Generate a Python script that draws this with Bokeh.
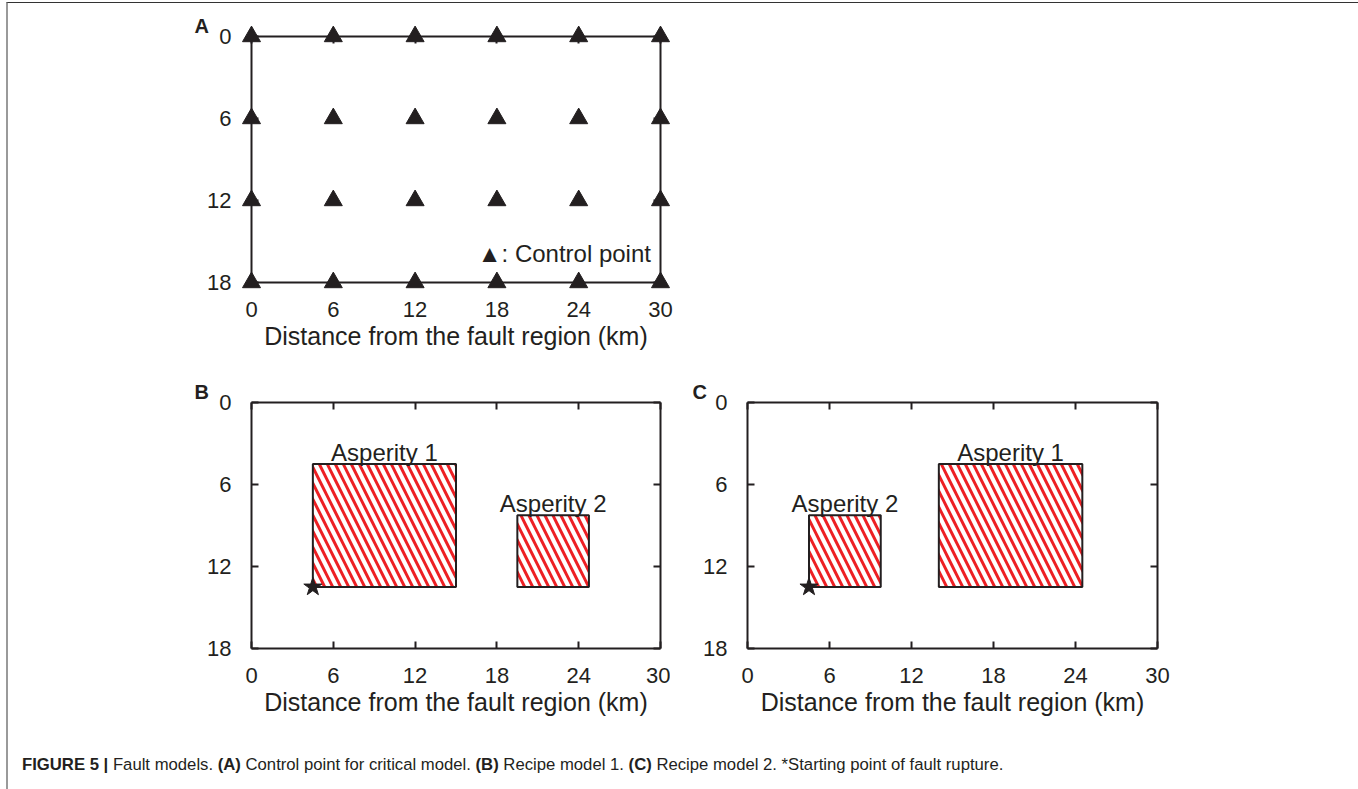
from bokeh.plotting import figure
from bokeh.models import Range1d, FixedTicker, LinearAxis, Label, Div
from bokeh.layouts import column, row
from bokeh.embed import file_html
from bokeh.resources import INLINE
from bokeh.core.properties import value

# ---------------- data ----------------
x_ticks = [0, 6, 12, 18, 24, 30]
y_ticks = [0, 6, 12, 18]
x_range_km = [0, 30]
y_range_km = [18, 0]          # depth axis, 0 at top

# control points of the critical model (panel A)
ctrl_x = [0, 6, 12, 18, 24, 30,
          0, 6, 12, 18, 24, 30,
          0, 6, 12, 18, 24, 30,
          0, 6, 12, 18, 24, 30]
ctrl_y = [0, 0, 0, 0, 0, 0,
          6, 6, 6, 6, 6, 6,
          12, 12, 12, 12, 12, 12,
          18, 18, 18, 18, 18, 18]

# recipe model 1 (panel B)
asp_b_names = ["Asperity 1", "Asperity 2"]
asp_b_left = [4.5, 19.5]
asp_b_right = [15.0, 24.75]
asp_b_top = [4.5, 8.25]
asp_b_bottom = [13.5, 13.5]

# recipe model 2 (panel C)
asp_c_names = ["Asperity 1", "Asperity 2"]
asp_c_left = [14.0, 4.5]
asp_c_right = [24.5, 9.75]
asp_c_top = [4.5, 8.25]
asp_c_bottom = [13.5, 13.5]

# starting point of fault rupture
start_x = [4.5]
start_y = [13.5]

panel_letters = ["A", "B", "C"]
x_label = "Distance from the fault region (km)"
legend_text = "\u25B2: Control point"
caption_html = ("<b>FIGURE 5 |</b> Fault models. <b>(A)</b> Control point for critical model. "
                "<b>(B)</b> Recipe model 1. <b>(C)</b> Recipe model 2. *Starting point of fault rupture.")

# ---------------- style ----------------
DARK = "#231f20"
RED = "#ed2024"
FONT = "Liberation Sans"


def make_fig(fw, fh, left, right, top, bottom, letter, letter_offset):
    p = figure(frame_width=fw, frame_height=fh,
               x_range=Range1d(*x_range_km), y_range=Range1d(*y_range_km),
               output_backend="svg", toolbar_location=None,
               min_border_left=left, min_border_right=right,
               min_border_top=top, min_border_bottom=bottom,
               background_fill_color="white", border_fill_color="white")
    p.title.text = letter
    p.title.align = "left"
    p.title.offset = letter_offset
    p.title.standoff = 0
    p.title.text_font = FONT
    p.title.text_font_size = "20px"
    p.title.text_font_style = "bold"
    p.title.text_color = DARK
    p.grid.visible = False
    p.outline_line_color = None
    p.add_layout(LinearAxis(), "above")
    p.add_layout(LinearAxis(), "right")
    for ax in p.xaxis:
        ax.ticker = FixedTicker(ticks=x_ticks)
    for ax in p.yaxis:
        ax.ticker = FixedTicker(ticks=y_ticks)
    for ax in p.axis:
        ax.axis_line_color = DARK
        ax.axis_line_width = 2
        ax.major_tick_line_color = DARK
        ax.major_tick_line_width = 2
        ax.major_tick_in = 7
        ax.major_tick_out = 0
        ax.minor_tick_line_color = None
        ax.major_label_text_font = FONT
        ax.major_label_text_font_size = "22px"
        ax.major_label_text_color = DARK
    p.below[0].major_label_standoff = 19
    p.left[0].major_label_standoff = 20
    for ax in (p.above[0], p.right[0]):
        ax.major_label_text_font_size = "0px"
        ax.major_label_standoff = 0
    p.below[0].axis_label = x_label
    p.below[0].axis_label_text_font = FONT
    p.below[0].axis_label_text_font_size = "25px"
    p.below[0].axis_label_text_font_style = "normal"
    p.below[0].axis_label_text_color = DARK
    p.below[0].axis_label_standoff = 2
    return p


def asperities(p, names, left, right, top, bottom):
    p.quad(left=left, right=right, top=top, bottom=bottom,
           fill_color="white", line_color=DARK, line_width=2,
           hatch_pattern="\\", hatch_color=RED, hatch_weight=3, hatch_scale=16)
    centers = [(l + r) / 2 for l, r in zip(left, right)]
    p.text(x=centers, y=top, text=names, text_align="center", text_baseline="bottom",
           y_offset=2, text_font=value(FONT), text_font_size="24px", text_color=DARK)
    r = p.scatter(x=start_x, y=start_y, marker="star", size=19, color=DARK)
    r.level = "overlay"


# ---------------- panel A ----------------
pA = make_fig(409, 246, 243, 20, 33, 81, panel_letters[0], -57)
tri = pA.scatter(x=ctrl_x, y=ctrl_y, marker="triangle", size=18, color=DARK)
tri.level = "overlay"
pA.add_layout(Label(x=29.3, y=15.9, text=legend_text, text_font=FONT, text_font_size="24px",
                    text_color=DARK, text_align="right", text_baseline="middle"))

# ---------------- panel B ----------------
pB = make_fig(409, 246, 243, 10, 39, 101, panel_letters[1], -57)
asperities(pB, asp_b_names, asp_b_left, asp_b_right, asp_b_top, asp_b_bottom)

# ---------------- panel C ----------------
pC = make_fig(410, 246, 77, 120, 39, 101, panel_letters[2], -55)
asperities(pC, asp_c_names, asp_c_left, asp_c_right, asp_c_top, asp_c_bottom)

cap = Div(text='<div style="margin-left:9px;margin-top:1px;font-family:\'Liberation Sans\';'
               'font-size:16.7px;line-height:20px;color:#231f20;white-space:nowrap;">'
               + caption_html + '</div>',
          width=1346, height=36)

layout = column(pA, row(pB, pC), cap,
                styles={"margin-left": "6px", "margin-top": "2px",
                        "border-left": "2px solid #9a9a9a", "border-right": "2px solid #9a9a9a",
                        "border-top": "1px solid #333333"})

open("out.html", "w").write(file_html(layout, INLINE))
